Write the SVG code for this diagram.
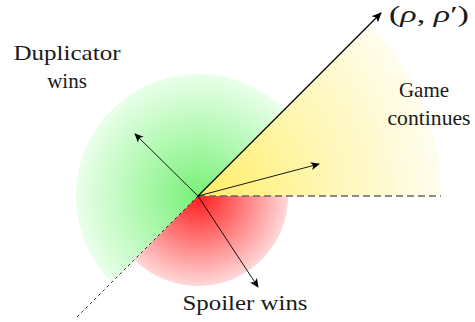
<svg xmlns="http://www.w3.org/2000/svg" width="475" height="322" viewBox="0 0 475 322">
<defs>
<marker id="stealth" viewBox="0 0 10 10" refX="9" refY="5" markerWidth="9" markerHeight="9" markerUnits="userSpaceOnUse" orient="auto">
<path d="M0,0.5 L10,5 L0,9.5 L2.5,5 Z" fill="#000"/>
</marker>
<marker id="stealthB" viewBox="0 0 10 10" refX="9" refY="5" markerWidth="10" markerHeight="10" markerUnits="userSpaceOnUse" orient="auto">
<path d="M0,0.5 L10,5 L0,9.5 L2.5,5 Z" fill="#000"/>
</marker>
<radialGradient id="gGreen" gradientUnits="userSpaceOnUse" cx="198" cy="196" r="124">
<stop offset="0" stop-color="#78f078"/>
<stop offset="0.5" stop-color="#b2f9b2"/>
<stop offset="1" stop-color="#ecffec"/>
</radialGradient>
<radialGradient id="gRed" gradientUnits="userSpaceOnUse" cx="198" cy="196" r="92">
<stop offset="0" stop-color="#ff1c1c"/>
<stop offset="1" stop-color="#ffdcdc"/>
</radialGradient>
<radialGradient id="gYellow" gradientUnits="userSpaceOnUse" cx="198" cy="196" r="245">
<stop offset="0" stop-color="#ffee66"/>
<stop offset="0.5" stop-color="#fff6b0"/>
<stop offset="1" stop-color="#fffdf0"/>
</radialGradient>
</defs>
<g id="regions">
<path id="green" d="M198,196 L284.27,109.73 A122,122 0 0 0 111.73,282.27 Z" fill="url(#gGreen)"/>
<path id="red" d="M198,196 L288,196 A90,90 0 0 1 134.36,259.64 Z" fill="url(#gRed)"/>
<path id="yellow" d="M198,196 L441,196 A243,243 0 0 0 369.83,24.17 Z" fill="url(#gYellow)"/>
</g>
<g id="connectors" fill="none">
<line x1="198" y1="196" x2="441" y2="196" stroke="#666" stroke-width="1.5" stroke-dasharray="7 4"/>
<line x1="198" y1="196" x2="76" y2="318" stroke="#000" stroke-width="0.8" stroke-dasharray="3 3"/>
<line x1="198" y1="196" x2="381" y2="13" stroke="#000" stroke-width="1.3" marker-end="url(#stealthB)"/>
<line x1="198" y1="196" x2="135" y2="134" stroke="#000" stroke-width="0.9" marker-end="url(#stealth)"/>
<line x1="198" y1="196" x2="319" y2="164" stroke="#000" stroke-width="0.9" marker-end="url(#stealth)"/>
<line x1="198" y1="196" x2="258" y2="287" stroke="#000" stroke-width="0.9" marker-end="url(#stealth)"/>
</g>
<g id="label-duplicator">
<text x="67" y="60" style="font-family:'Liberation Serif',serif;font-size:21px" text-anchor="middle" fill="#1a1a1a" textLength="107" lengthAdjust="spacingAndGlyphs">Duplicator</text>
<text x="67" y="88" style="font-family:'Liberation Serif',serif;font-size:21px" text-anchor="middle" fill="#1a1a1a">wins</text>
</g>
<g id="label-game">
<text x="424" y="97" style="font-family:'Liberation Serif',serif;font-size:21px" text-anchor="middle" fill="#1a1a1a">Game</text>
<text x="429" y="125" style="font-family:'Liberation Serif',serif;font-size:21px" text-anchor="middle" fill="#1a1a1a" textLength="83" lengthAdjust="spacingAndGlyphs">continues</text>
</g>
<g id="label-spoiler">
<text x="245" y="310" style="font-family:'Liberation Serif',serif;font-size:21px" text-anchor="middle" fill="#1a1a1a" textLength="125" lengthAdjust="spacingAndGlyphs">Spoiler wins</text>
</g>
<g id="label-rho">
<text x="429" y="22" style="font-family:'Liberation Serif',serif;font-size:23px" text-anchor="middle" fill="#1a1a1a" textLength="80" lengthAdjust="spacingAndGlyphs">(<tspan style="font-style:italic">&#961;</tspan>, <tspan style="font-style:italic">&#961;</tspan>&#8242;)</text>
</g>
</svg>
